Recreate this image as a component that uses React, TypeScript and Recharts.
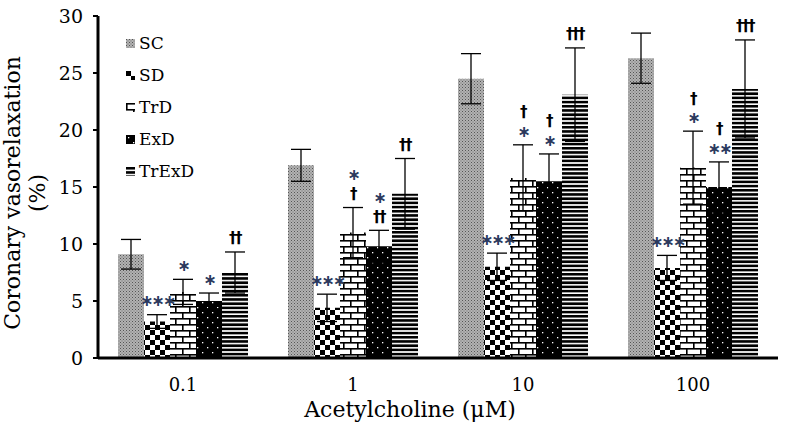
import { Bar, BarChart, ErrorBar, LabelList, Legend, XAxis, YAxis } from "recharts"

const categories = ["0.1", "1", "10", "100"]

const scValues = [9.1, 16.9, 24.5, 26.3]
const scErr = [1.3, 1.4, 2.2, 2.2]
const sdValues = [3.2, 4.4, 8.0, 7.9]
const sdErr = [0.6, 1.2, 1.2, 1.1]
const trdValues = [5.8, 11.0, 15.8, 16.7]
const trdErr = [1.1, 2.2, 2.9, 3.2]
const exdValues = [5.0, 9.8, 15.5, 15.0]
const exdErr = [0.7, 1.4, 2.4, 2.2]
const trexdValues = [7.5, 14.4, 23.1, 23.6]
const trexdErr = [1.8, 3.1, 4.1, 4.3]

// significance marks, listed top line first
const sdMarks = [["∗∗∗"], ["∗∗∗"], ["∗∗∗"], ["∗∗∗"]]
const trdMarks = [["∗"], ["∗", "†"], ["†", "∗"], ["†", "∗"]]
const exdMarks = [["∗"], ["∗", "††"], ["†", "∗"], ["†", "∗∗"]]
const trexdMarks = [["††"], ["††"], ["†††"], ["†††"]]

const yTicks = [0, 5, 10, 15, 20, 25, 30]

const series = [
  { key: "sc", name: "SC", fill: "url(#pSC)", errs: scErr, marks: null },
  { key: "sd", name: "SD", fill: "url(#pSD)", errs: sdErr, marks: sdMarks },
  { key: "trd", name: "TrD", fill: "url(#pTrD)", errs: trdErr, marks: trdMarks },
  { key: "exd", name: "ExD", fill: "url(#pExD)", errs: exdErr, marks: exdMarks },
  { key: "trexd", name: "TrExD", fill: "url(#pTrExD)", errs: trexdErr, marks: trexdMarks },
]

const data = categories.map((cat, i) => ({
  cat,
  sc: scValues[i],
  scErr: scErr[i],
  sd: sdValues[i],
  sdErr: sdErr[i],
  trd: trdValues[i],
  trdErr: trdErr[i],
  exd: exdValues[i],
  exdErr: exdErr[i],
  trexd: trexdValues[i],
  trexdErr: trexdErr[i],
}))

function makeMarkLabel(errs: number[], marks: string[][]) {
  return (props: any) => {
    const { x, y, width, height, value, index } = props
    const lines = marks[index]
    if (!lines || !value) return null
    const perUnit = height / value
    const errTop = y - errs[index] * perUnit
    const cx = x + width / 2
    const n = lines.length
    return (
      <g>
        {lines.map((s, i) => {
          const centerY = errTop - 13 - (n - 1 - i) * 19
          const isStar = s.includes("∗")
          const fs = isStar ? 16 : 15
          const baseline = centerY + fs * 0.3
          return (
            <text
              key={i}
              x={cx}
              y={baseline}
              textAnchor="middle"
              fontFamily="DejaVu Sans"
              fontWeight="bold"
              fontSize={fs}
              letterSpacing={isStar ? -2 : -1.5}
              fill={isStar ? "#2b3a5e" : "#000"}
            >
              {s}
            </text>
          )
        })}
      </g>
    )
  }
}

function renderLegend() {
  return (
    <div style={{ fontFamily: "DejaVu Serif", fontSize: 17, color: "#000" }}>
      {series.map((s) => (
        <div key={s.key} style={{ display: "flex", alignItems: "center", height: 32 }}>
          <svg width={9} height={9} style={{ marginRight: 4 }}>
            <rect x={0} y={0} width={9} height={9} fill={s.fill} />
          </svg>
          <span>{s.name}</span>
        </div>
      ))}
    </div>
  )
}

function YLabel(props: any) {
  const { viewBox } = props
  const cy = viewBox.y + viewBox.height / 2 + 6
  return (
    <g fontFamily="DejaVu Serif" fontSize={22} fill="#000">
      <text x={12} y={cy} transform={`rotate(-90, 12, ${cy})`} textAnchor="middle" dominantBaseline="central">
        Coronary vasorelaxation
      </text>
      <text x={37} y={cy} transform={`rotate(-90, 37, ${cy})`} textAnchor="middle" dominantBaseline="central">
        (%)
      </text>
    </g>
  )
}

function XLabel(props: any) {
  const { viewBox } = props
  const cx = viewBox.x + viewBox.width / 2 - 28
  return (
    <text x={cx} y={417} textAnchor="middle" fontFamily="DejaVu Serif" fontSize={22} fill="#000">
      Acetylcholine (μM)
    </text>
  )
}

export default function App() {
  return (
    <div style={{ position: "absolute", left: 0, top: 0, background: "#fff" }}>
      <BarChart
        width={786}
        height={435}
        data={data}
        margin={{ top: 16, right: 8, left: 0, bottom: 5 }}
        barSize={26}
        barGap={0}
        style={{ fontFamily: "DejaVu Serif" }}
      >
        <defs>
          <pattern id="pSC" width={3} height={3} patternUnits="userSpaceOnUse">
            <rect width={3} height={3} fill="#b2b2b2" />
            <rect x={0} y={0} width={1} height={1} fill="#555" />
            <rect x={1.5} y={1.5} width={1} height={1} fill="#707070" />
          </pattern>
          <pattern id="pSD" width={10} height={10} patternUnits="userSpaceOnUse">
            <rect width={10} height={10} fill="#fff" />
            <rect x={0} y={0} width={5} height={5} fill="#000" />
            <rect x={5} y={5} width={5} height={5} fill="#000" />
          </pattern>
          <pattern id="pTrD" width={14} height={12} patternUnits="userSpaceOnUse">
            <rect width={14} height={12} fill="#fff" />
            <rect x={0} y={0} width={14} height={1.6} fill="#000" />
            <rect x={0} y={6} width={14} height={1.6} fill="#000" />
            <rect x={0} y={0} width={1.6} height={6} fill="#000" />
            <rect x={7} y={6} width={1.6} height={6} fill="#000" />
          </pattern>
          <pattern id="pExD" width={10} height={10} patternUnits="userSpaceOnUse">
            <rect width={10} height={10} fill="#000" />
            <rect x={2} y={2} width={1.3} height={1.3} fill="#fff" />
            <rect x={7} y={7} width={1.3} height={1.3} fill="#fff" />
          </pattern>
          <pattern id="pTrExD" width={4} height={4.2} patternUnits="userSpaceOnUse">
            <rect width={4} height={4.2} fill="#fff" />
            <rect x={0} y={0} width={4} height={2.6} fill="#000" />
          </pattern>
        </defs>
        <XAxis
          dataKey="cat"
          tickLine={false}
          axisLine={{ stroke: "#000", strokeWidth: 3 }}
          tick={{ fill: "#000", fontSize: 18 }}
          tickMargin={14}
          height={72}
          label={<XLabel />}
        />
        <YAxis
          domain={[0, 30]}
          ticks={yTicks}
          width={98}
          interval={0}
          tickSize={5}
          tickMargin={10}
          tick={{ fill: "#000", fontSize: 19 }}
          tickLine={{ stroke: "#000", strokeWidth: 2 }}
          axisLine={{ stroke: "#000", strokeWidth: 3 }}
          label={<YLabel />}
        />
        <Legend
          content={renderLegend}
          layout="vertical"
          align="center"
          verticalAlign="middle"
          wrapperStyle={{ left: 126, top: 27, width: 110 }}
        />
        {series.map((s) => (
          <Bar key={s.key} dataKey={s.key} name={s.name} fill={s.fill} isAnimationActive={false}>
            <ErrorBar dataKey={`${s.key}Err`} width={10} stroke="#000" strokeWidth={1.3} direction="y" />
            {s.marks && <LabelList dataKey={s.key} content={makeMarkLabel(s.errs, s.marks)} />}
          </Bar>
        ))}
      </BarChart>
    </div>
  )
}
